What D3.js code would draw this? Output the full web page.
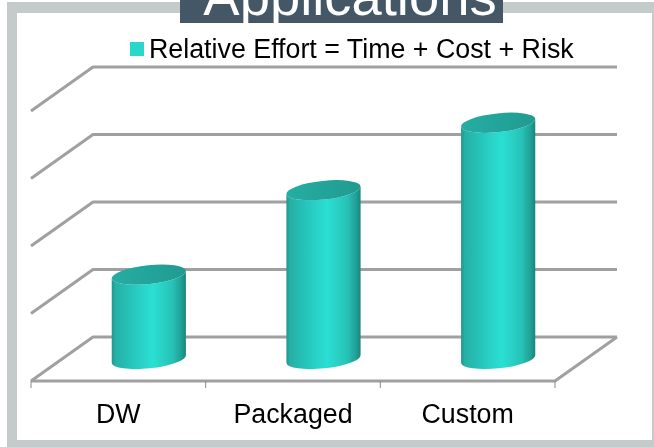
<!DOCTYPE html>
<html><head><meta charset="utf-8">
<script src="https://cdn.jsdelivr.net/npm/d3@7"></script>
<style>html,body{margin:0;padding:0;background:#fff}svg{display:block}text{font-family:"Liberation Sans",Arial,sans-serif}</style>
</head><body><svg id="c" width="654" height="447"></svg>
<script>
const categories = ["DW","Packaged","Custom"];
const values = [1.25,2.5,3.5];
const yTicks = [0,1,2,3,4];
const seriesName = "Relative Effort = Time + Cost + Risk";
const titleText = "Applications";

const svg = d3.select("#c");
const defs = svg.append("defs");
const grad = defs.append("linearGradient").attr("id","body").attr("x1",0).attr("x2",1).attr("y1",0).attr("y2",0);
[[0,"#20978e"],[0.05,"#26b0a6"],[0.3,"#28c8be"],[0.55,"#2cdfd3"],[0.82,"#27c2b7"],[0.94,"#209f95"],[1,"#1c857d"]].forEach(s=>grad.append("stop").attr("offset",s[0]).attr("stop-color",s[1]));
const lid = defs.append("linearGradient").attr("id","lid").attr("x1",0).attr("x2",1).attr("y1",0).attr("y2",0);
[[0,"#25ada3"],[0.55,"#24a399"],[1,"#229a91"]].forEach(s=>lid.append("stop").attr("offset",s[0]).attr("stop-color",s[1]));
const soft = defs.append("filter").attr("id","soft").attr("x","-5%").attr("y","-5%").attr("width","110%").attr("height","110%");
soft.append("feGaussianBlur").attr("stdDeviation",0.6);
const softText = defs.append("filter").attr("id","softText").attr("x","-5%").attr("y","-20%").attr("width","110%").attr("height","140%");
softText.append("feGaussianBlur").attr("stdDeviation",0.3);

// frame: the right edge of the band runs to the page edge
svg.append("rect").attr("x",7).attr("y",2).attr("width",647).attr("height",445).attr("fill","#c5cbcb");
svg.append("rect").attr("x",17).attr("y",13).attr("width",635).attr("height",427).attr("fill","#fff");
svg.append("rect").attr("x",180).attr("y",0).attr("width",323).attr("height",23).attr("fill","#445767");
svg.append("text").attr("x",350).attr("y",15).attr("text-anchor","middle").attr("font-size",54.4).attr("fill","#fff").attr("filter","url(#softText)").text(titleText);

// plot scales
const x0=31,x1=555,floorY=381,dx=62,dy=-44;
const x = d3.scaleBand().domain(categories).range([x0,x1]);
const y = d3.scaleLinear().domain([0,4]).range([floorY,floorY-270]);

const plot = svg.append("g").attr("filter","url(#soft)");
const line = d3.line();
yTicks.forEach(t=>{
  const pts=[[x0,y(t)],[x0+dx,y(t)+dy],[x1+dx,y(t)+dy]];
  plot.append("path").attr("d",line(pts)).attr("fill","none").attr("stroke","#a0a0a0").attr("stroke-width",3).attr("stroke-linejoin","round");
});
plot.append("path").attr("d",line([[x0,floorY],[x1,floorY],[x1+dx,floorY+dy]])).attr("fill","none").attr("stroke","#a0a0a0").attr("stroke-width",3);
x.domain().map(c=>x(c)).concat([x1]).forEach(px=>{
  plot.append("line").attr("x1",px).attr("x2",px).attr("y1",floorY).attr("y2",floorY+7).attr("stroke","#8a8a8a").attr("stroke-width",1);
});
// cylinders
const rx=37.3,ry=9.4,rot=-6,ex=rx*Math.cos(rot*Math.PI/180),ey=rx*Math.sin(rot*Math.PI/180);
categories.forEach((c,i)=>{
  const cx=x(c)+x.bandwidth()/2+dx/2-0.5;
  const yb=y(0)+dy/2, yt=y(values[i])+dy/2;
  plot.append("path").attr("fill","url(#body)")
    .attr("d",`M${cx-ex},${yt-ey}L${cx-ex},${yb-ey}A${rx},${ry} ${rot} 0 0 ${cx+ex},${yb+ey}L${cx+ex},${yt+ey}A${rx},${ry} ${rot} 0 1 ${cx-ex},${yt-ey}Z`);
  plot.append("ellipse").attr("cx",0).attr("cy",0).attr("rx",rx).attr("ry",ry)
    .attr("transform",`translate(${cx},${yt}) rotate(${rot})`).attr("fill","url(#lid)");
});
// category labels
categories.forEach(c=>{
  svg.append("text").attr("x",x(c)+x.bandwidth()/2).attr("y",423).attr("text-anchor","middle").attr("font-size",26.8).attr("fill","#000").attr("filter","url(#softText)").text(c);
});
// legend
svg.append("rect").attr("x",130).attr("y",42).attr("width",14).attr("height",14).attr("fill","#2bd6cb");
svg.append("text").attr("x",149).attr("y",58).attr("font-size",26.8).attr("fill","#000").attr("filter","url(#softText)").text(seriesName);
</script></body></html>
